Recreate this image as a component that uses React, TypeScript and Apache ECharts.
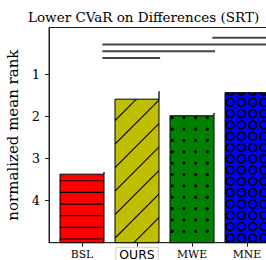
import React, { useEffect, useRef } from 'react';
import * as echarts from 'echarts';

const categories = ['BSL', 'OURS', 'MWE', 'MNE'];
const meanRank = [3.37, 1.585, 1.98, 1.43];
const rankErr = [0.055, 0.19, 0.065, 0.1];
const sigFrom = [2, 0, 0, 0];
const sigTo = [3, 3, 2, 1];
const sigLevel = [0.123, 0.282, 0.448, 0.607];
const yTicks = [1, 2, 3, 4];
const xTicks = [0, 1, 2, 3];
const barColors = ['#ff0000', '#bfbf00', '#008000', '#0000ff'];
const hatches = ['-', '/', '.', 'o'];

export default function App() {
  const ref = useRef<HTMLDivElement>(null);
  useEffect(() => {
    document.body.style.margin = '0';
    const chart = echarts.init(ref.current as HTMLDivElement, null, { renderer: 'svg' });

    const renderBar = (params: any, api: any) => {
      const i = api.value(0);
      const v = api.value(1);
      const err = api.value(2);
      const top = api.coord([i, v]);
      const base = api.coord([i, 5]);
      const w = api.size([0.8, 0])[0];
      const x0 = top[0] - w / 2;
      const x1 = top[0] + w / 2;
      const y0 = top[1];
      const y1 = base[1];
      const h = y1 - y0;
      const hatch = hatches[i];
      const els: any[] = [];
      const hs = { stroke: '#000', lineWidth: 1.2 };
      if (hatch === '-') {
        for (let y = y1 - 3.7; y > y0; y -= 11.65) {
          els.push({ type: 'line', shape: { x1: x0, y1: y, x2: x1, y2: y }, style: hs });
        }
      } else if (hatch === '/') {
        for (let yL = y1 - 4.7 + 23.5 * 3; yL > y0 - 5; yL -= 23.5) {
          els.push({ type: 'line', shape: { x1: x0, y1: yL, x2: x0 + 200, y2: yL - 200 }, style: { stroke: '#000', lineWidth: 1.1 } });
        }
      } else if (hatch === '.') {
        for (let y = y1 - 11.36; y > y0 - 2; y -= 11.36) {
          for (let x = x0 + 2.3; x < x1 + 2; x += 11.67) {
            els.push({ type: 'circle', shape: { cx: x, cy: y, r: 1.6 }, style: { fill: '#000' } });
          }
        }
      } else if (hatch === 'o') {
        for (let y = y1 - 4.8; y > y0 - 6; y -= 11.3) {
          for (let x = x0 + 5; x < x1 + 6; x += 11.3) {
            els.push({ type: 'circle', shape: { cx: x, cy: y, r: 4 }, style: { fill: 'none', stroke: '#000', lineWidth: 1.6 } });
          }
        }
      }
      const errTop = api.coord([i, v - err]);
      return {
        type: 'group',
        children: [
          { type: 'rect', shape: { x: x0, y: y0, width: w, height: h }, style: { fill: barColors[i] } },
          {
            type: 'group',
            clipPath: { type: 'rect', shape: { x: x0, y: y0, width: w, height: h } },
            children: els,
          },
          { type: 'rect', shape: { x: x0, y: y0, width: w, height: h }, style: { fill: 'none', stroke: '#000', lineWidth: 1 } },
          { type: 'line', shape: { x1: x1, y1: errTop[1], x2: x1, y2: y0 }, style: { stroke: '#222', lineWidth: 1.5 } },
        ],
      };
    };

    const renderSig = (params: any, api: any) => {
      const a = api.coord([api.value(0) + 0.37, api.value(2)]);
      const b = api.coord([api.value(1) + 0.42, api.value(2)]);
      return {
        type: 'line',
        shape: { x1: a[0], y1: a[1], x2: b[0], y2: b[1] },
        style: { stroke: '#444', lineWidth: 2 },
      };
    };

    chart.setOption({
      animation: false,
      title: {
        text: 'Lower CVaR on Differences (SRT)',
        left: 23,
        top: 5,
        textStyle: { fontFamily: 'DejaVu Serif', fontSize: 13.5, fontWeight: 'normal', color: '#000' },
      },
      grid: {
        left: 49,
        top: 27.5,
        bottom: 17.3,
        right: -14,
        outerBoundsMode: 'none',
        containLabel: false,
        show: true,
        borderColor: '#222',
        borderWidth: 1,
      },
      xAxis: {
        type: 'value',
        min: -0.6,
        max: 3.6,
        splitLine: { show: false },
        axisLine: { show: true, onZero: false, lineStyle: { color: '#222' } },
        axisTick: { show: true, length: 4, customValues: xTicks, lineStyle: { color: '#222' } },
        axisLabel: {
          customValues: xTicks,
          margin: 6,
          formatter: (v: number) => {
            const k = Math.round(v);
            return k === 1 ? '{o|' + categories[k] + '}' : '{s|' + categories[k] + '}';
          },
          rich: {
            s: { fontFamily: 'DejaVu Serif', fontSize: 10.8, lineHeight: 11, color: '#000' },
            o: {
              fontFamily: 'DejaVu Sans',
              fontSize: 12.4,
              lineHeight: 13,
              color: '#000',
              borderColor: '#ccc',
              borderWidth: 1,
              backgroundColor: '#fff',
              padding: [1, 3, 2, 3],
            },
          },
        },
      },
      yAxis: {
        type: 'value',
        inverse: true,
        min: -0.12,
        max: 5,
        splitLine: { show: false },
        axisLine: { show: true, onZero: false, lineStyle: { color: '#222' } },
        axisTick: { show: true, length: 4, customValues: yTicks, lineStyle: { color: '#222' } },
        axisLabel: { customValues: yTicks, fontFamily: 'DejaVu Serif', fontSize: 13, color: '#000', margin: 9 },
        name: 'normalized mean rank',
        nameLocation: 'middle',
        nameGap: 22,
        nameTextStyle: { fontFamily: 'DejaVu Serif', fontSize: 15, color: '#000' },
      },
      series: [
        {
          type: 'custom',
          renderItem: renderBar,
          data: categories.map((c, i) => [i, meanRank[i], rankErr[i]]),
          encode: { x: 0, y: 1 },
        },
        {
          type: 'custom',
          renderItem: renderSig,
          data: sigFrom.map((f, i) => [f, sigTo[i], sigLevel[i]]),
          encode: { x: [0, 1], y: 2 },
        },
      ],
    });
    return () => chart.dispose();
  }, []);
  return <div ref={ref} style={{ width: 266, height: 260 }} />;
}
